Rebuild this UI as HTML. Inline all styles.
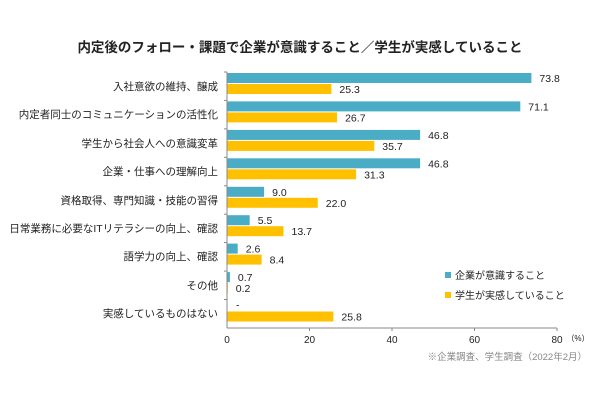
<!DOCTYPE html><html><head><meta charset="utf-8"><style>
body{margin:0;background:#fff;}
svg text{font-family:"Liberation Sans","Noto Sans CJK JP",sans-serif;}
</style></head><body>
<svg width="600" height="400" xmlns="http://www.w3.org/2000/svg">
<text x="300" y="52" font-size="13.5" font-weight="bold" text-anchor="middle" fill="#222">内定後のフォロー・課題で企業が意識すること／学生が実感していること</text>
<g fill="#4BACC6">
<rect x="227" y="73" width="304.4" height="10"/>
<rect x="227" y="101.4" width="293.3" height="10"/>
<rect x="227" y="129.9" width="193.1" height="10"/>
<rect x="227" y="158.3" width="193.1" height="10"/>
<rect x="227" y="186.8" width="37.1" height="10"/>
<rect x="227" y="215.2" width="22.7" height="10"/>
<rect x="227" y="243.6" width="10.7" height="10"/>
<rect x="227" y="272.1" width="2.9" height="10"/>
</g>
<g fill="#FFC000">
<rect x="227" y="84" width="104.4" height="10"/>
<rect x="227" y="112.4" width="110.1" height="10"/>
<rect x="227" y="140.9" width="147.3" height="10"/>
<rect x="227" y="169.3" width="129.1" height="10"/>
<rect x="227" y="197.8" width="90.75" height="10"/>
<rect x="227" y="226.2" width="56.5" height="10"/>
<rect x="227" y="254.6" width="34.65" height="10"/>
<rect x="227" y="283.1" width="0.8" height="10"/>
<rect x="227" y="311.5" width="106.4" height="10"/>
</g>
<g font-size="10.5" fill="#222">
<text x="539.4" y="82">73.8</text><text x="339.4" y="93">25.3</text>
<text x="528.3" y="110.4">71.1</text><text x="345.1" y="121.4">26.7</text>
<text x="428.1" y="138.9">46.8</text><text x="382.3" y="149.9">35.7</text>
<text x="428.1" y="167.3">46.8</text><text x="364.1" y="178.3">31.3</text>
<text x="272.1" y="195.8">9.0</text><text x="325.75" y="206.8">22.0</text>
<text x="257.7" y="224.2">5.5</text><text x="291.5" y="235.2">13.7</text>
<text x="245.7" y="252.6">2.6</text><text x="269.65" y="263.6">8.4</text>
<text x="237.9" y="281.1">0.7</text><text x="235.8" y="292.1">0.2</text>
<text x="236" y="308.5">-</text><text x="341.4" y="320.5">25.8</text>
</g>
<g stroke="#888" stroke-width="1">
<line x1="227" y1="72" x2="227" y2="328"/>
<line x1="227" y1="328" x2="557" y2="328"/>
<line x1="224" y1="72" x2="227" y2="72"/><line x1="224" y1="100.4" x2="227" y2="100.4"/><line x1="224" y1="128.9" x2="227" y2="128.9"/><line x1="224" y1="157.3" x2="227" y2="157.3"/><line x1="224" y1="185.8" x2="227" y2="185.8"/><line x1="224" y1="214.2" x2="227" y2="214.2"/><line x1="224" y1="242.6" x2="227" y2="242.6"/><line x1="224" y1="271.1" x2="227" y2="271.1"/><line x1="224" y1="299.5" x2="227" y2="299.5"/>
<line x1="309.5" y1="328" x2="309.5" y2="331"/><line x1="392" y1="328" x2="392" y2="331"/><line x1="474.5" y1="328" x2="474.5" y2="331"/><line x1="557" y1="328" x2="557" y2="331"/>
</g>
<g font-size="10" fill="#222" text-anchor="middle">
<text x="227" y="343">0</text><text x="309.5" y="343">20</text><text x="392" y="343">40</text><text x="474.5" y="343">60</text><text x="557" y="343">80</text>
<text x="578" y="341" font-size="8">（%）</text>
</g>
<text x="587" y="360" font-size="9.5" fill="#888" text-anchor="end">※企業調査、学生調査（2022年2月）</text>
<rect x="445" y="272" width="6" height="6" fill="#4BACC6"/>
<text x="455" y="279" font-size="10" fill="#222">企業が意識すること</text>
<rect x="445" y="292" width="6" height="6" fill="#FFC000"/>
<text x="455" y="299" font-size="10" fill="#222">学生が実感していること</text>
<g font-size="10.5" fill="#222" text-anchor="end">
<text x="218" y="90">入社意欲の維持、醸成</text>
<text x="218" y="118">内定者同士のコミュニケーションの活性化</text>
<text x="218" y="147">学生から社会人への意識変革</text>
<text x="218" y="175">企業・仕事への理解向上</text>
<text x="218" y="204">資格取得、専門知識・技能の習得</text>
<text x="218" y="232">日常業務に必要なITリテラシーの向上、確認</text>
<text x="218" y="260">語学力の向上、確認</text>
<text x="218" y="289">その他</text>
<text x="218" y="317">実感しているものはない</text>
</g>
</svg>
</body></html>
